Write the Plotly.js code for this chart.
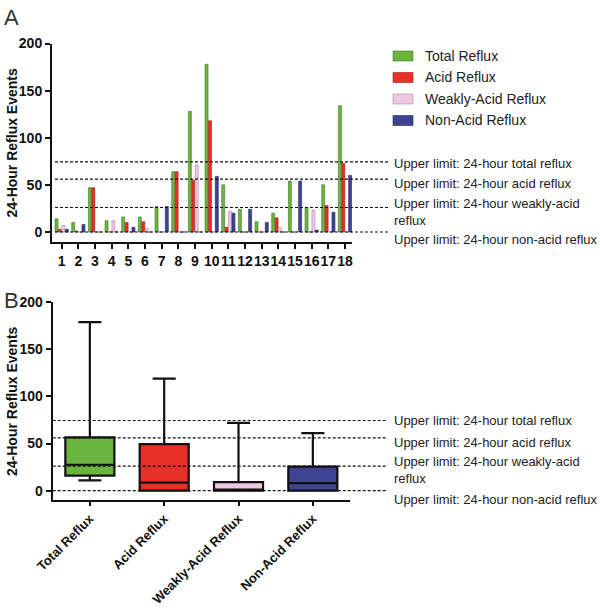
<!DOCTYPE html>
<html>
<head>
<meta charset="utf-8">
<script src="https://cdn.plot.ly/plotly-3.0.1.min.js"></script>
<style>html,body{margin:0;padding:0;background:#fff;}#chart{width:600px;height:608px;}</style>
</head>
<body>
<div id="chart"></div>
<script>
// ---- data ----
const patients = ['1','2','3','4','5','6','7','8','9','10','11','12','13','14','15','16','17','18'];
const seriesNames = ['Total Reflux', 'Acid Reflux', 'Weakly-Acid Reflux', 'Non-Acid Reflux'];
const totalReflux      = [14, 10, 47, 12, 16, 16, 27, 64, 128, 178, 50, 24, 11, 20, 54, 26, 50, 134];
const acidReflux       = [3, 1, 47, 0, 10, 11, 0, 64, 55, 118, 5, 0, 0, 15, 0, 0, 28, 73];
const weaklyAcidReflux = [7, 0, 0, 12, 0, 4, 0, 0, 71, 0, 22, 0, 0, 5, 0, 23, 0, 0];
const nonAcidReflux    = [3, 8, 0, 0, 5, 0, 27, 0, 0, 59, 20, 24, 10, 0, 54, 2, 21, 60];

// box summary (min, q1, median, q3, max) per reflux type
const boxLower  = [11, 0, 0, 0];
const boxQ1     = [16, 0, 0, 0];
const boxMedian = [27.5, 8.5, 0, 8];
const boxQ3     = [56.5, 49.5, 9, 25.5];
const boxUpper  = [179, 119, 72, 61];

// upper normal limits
const limitValues = [74.5, 56, 26, 0];
const limitLabels = ['Upper limit: 24-hour total reflux', 'Upper limit: 24-hour acid reflux',
                     'Upper limit: 24-hour weakly-acid<br>reflux', 'Upper limit: 24-hour non-acid reflux'];
const yTicks = [0, 50, 100, 150, 200];
const yTitle = '24-Hour Reflux Events';

// ---- styles ----
const colors = ['#6ab43f', '#e8302a', '#efc6e4', '#3f4394'];
const edges  = ['#3f7a22', '#9c1b17', '#a88aa0', '#23265e'];
const FONT = 'Liberation Sans, Arial, Helvetica, sans-serif';
const W = 600, H = 608;
const px = v => v / W, py = v => 1 - v / H;

const seriesValues = [totalReflux, acidReflux, weaklyAcidReflux, nonAcidReflux];
const traces = seriesValues.map((vals, i) => ({
  type: 'bar', x: patients, y: vals, name: seriesNames[i],
  xaxis: 'x', yaxis: 'y', showlegend: false,
  marker: {color: colors[i], line: {color: edges[i], width: 0.6}},
  hoverinfo: 'x+y+name'
}));
seriesNames.forEach((n, i) => {
  traces.push({
    type: 'box', x: [n], xaxis: 'x2', yaxis: 'y2', name: n, showlegend: false,
    q1: [boxQ1[i]], median: [boxMedian[i]], q3: [boxQ3[i]],
    lowerfence: [boxLower[i]], upperfence: [boxUpper[i]],
    fillcolor: colors[i], line: {color: '#111', width: 2.2},
    width: 0.66, whiskerwidth: 0.47, boxpoints: false
  });
});

const axisY = (domain, range) => ({
  domain: domain, range: range, tickmode: 'array', tickvals: yTicks, ticks: 'outside', ticklen: 5, tickwidth: 2,
  tickcolor: '#111', showline: true, linecolor: '#111', linewidth: 2, showgrid: false, zeroline: false,
  tickfont: {family: FONT, size: 14, weight: 'bold', color: '#111'},
  fixedrange: true
});

const shapes = [];
const annotations = [];
limitValues.forEach((v, i) => {
  shapes.push({type: 'line', xref: 'x domain', yref: 'y', x0: 0.01, x1: 1.12, y0: v, y1: v,
               line: {color: '#111', width: 1.2, dash: '3px,2px'}});
  shapes.push({type: 'line', xref: 'x2 domain', yref: 'y2', x0: 0.0, x1: 1.12, y0: v, y1: v,
               line: {color: '#111', width: 1.2, dash: '3px,2px'}});
});
const topLabelY = [163.3, 183.3, 212, 239.3];
const botLabelY = [420.7, 442.7, 470.3, 499.3];
limitLabels.forEach((t, i) => {
  [topLabelY[i], botLabelY[i]].forEach(yy => {
    annotations.push({text: t, xref: 'paper', yref: 'paper', x: px(392), y: py(yy),
      xanchor: 'left', yanchor: 'middle', align: 'left', showarrow: false,
      font: {family: FONT, size: 13, color: '#222'}});
  });
});
// y-axis titles
[[142.6], [401]].forEach(([cy]) => {
  annotations.push({text: yTitle, xref: 'paper', yref: 'paper', x: px(12), y: py(cy),
    xanchor: 'center', yanchor: 'middle', textangle: -90, showarrow: false,
    font: {family: FONT, size: 14, weight: 'bold', color: '#111'}});
});
// legend
const legY = [56, 77.5, 99, 120.5];
seriesNames.forEach((n, i) => {
  shapes.push({type: 'rect', xref: 'paper', yref: 'paper', x0: px(393), x1: px(413),
    y0: py(legY[i] + 5), y1: py(legY[i] - 5), fillcolor: colors[i], line: {color: edges[i], width: 0.6}});
  annotations.push({text: n, xref: 'paper', yref: 'paper', x: px(423), y: py(legY[i]),
    xanchor: 'left', yanchor: 'middle', showarrow: false,
    font: {family: FONT, size: 14, color: '#222'}});
});
// panel letters
annotations.push({text: 'A', xref: 'paper', yref: 'paper', x: px(2), y: py(3), xanchor: 'left', yanchor: 'top',
  showarrow: false, font: {family: FONT, size: 22, color: '#333'}});
annotations.push({text: 'B', xref: 'paper', yref: 'paper', x: px(2), y: py(286), xanchor: 'left', yanchor: 'top',
  showarrow: false, font: {family: FONT, size: 22, color: '#333'}});

const layout = {
  width: W, height: H, margin: {l: 0, r: 0, t: 0, b: 0},
  paper_bgcolor: '#fff', plot_bgcolor: 'rgba(0,0,0,0)',
  showlegend: false, barmode: 'group', bargap: 0.18, bargroupgap: 0.12, boxmode: 'overlay',
  xaxis: {domain: [px(52), px(352)], range: [-0.58, 17.42], type: 'category', anchor: 'y',
    tickmode: 'array', tickvals: patients, ticktext: patients,
    ticks: 'outside', ticklen: 5, tickwidth: 2, tickcolor: '#111',
    showline: true, linecolor: '#111', linewidth: 2, showgrid: false, zeroline: false,
    tickfont: {family: FONT, size: 14, weight: 'bold', color: '#111'}, tickangle: 0, fixedrange: true},
  yaxis: Object.assign(axisY([py(241.7), py(43.5)], [-10.3, 200]), {anchor: 'x'}),
  xaxis2: {domain: [px(52.7), px(350)], range: [-0.5, 3.5], type: 'category', anchor: 'y2',
    tickmode: 'array', tickvals: seriesNames, ticktext: seriesNames,
    ticks: 'outside', ticklen: 4, tickwidth: 2, tickcolor: '#111',
    showline: true, linecolor: '#111', linewidth: 2, showgrid: false, zeroline: false,
    tickfont: {family: FONT, size: 13, weight: 'bold', color: '#111'}, tickangle: -45, fixedrange: true},
  yaxis2: Object.assign(axisY([py(500), py(302.3)], [-9.9, 200]), {anchor: 'x2'}),
  shapes: shapes, annotations: annotations
};

Plotly.newPlot('chart', traces, layout, {displayModeBar: false, staticPlot: true});
</script>
</body>
</html>
